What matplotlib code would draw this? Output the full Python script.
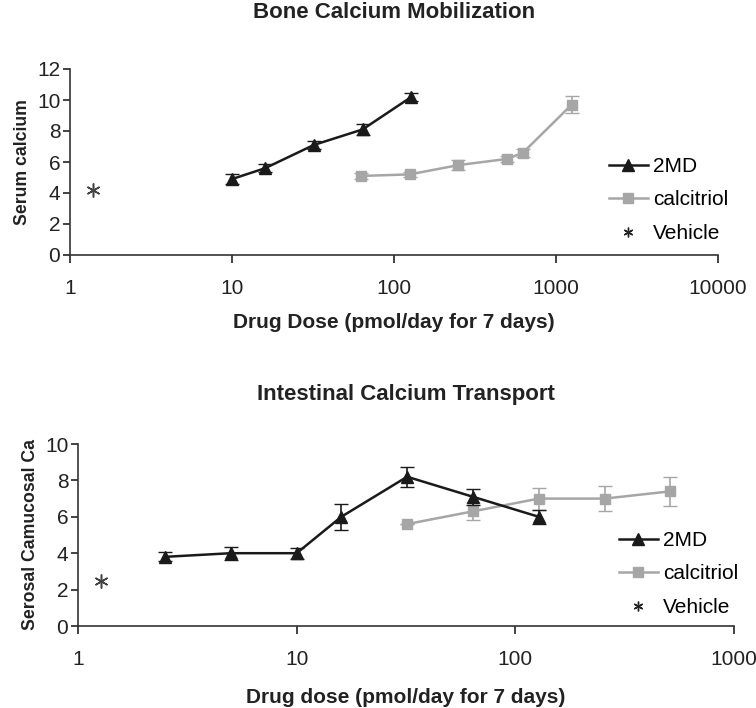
import numpy as np
import matplotlib.pyplot as plt
from matplotlib.lines import Line2D

# Bone calcium mobilization
bone_2md_dose = [10, 16, 32, 64, 128]
bone_2md_val = [4.9, 5.6, 7.1, 8.1, 10.2]
bone_2md_err = [0.3, 0.25, 0.25, 0.35, 0.25]
bone_cal_dose = [62.5, 125, 250, 500, 625, 1250]
bone_cal_val = [5.1, 5.2, 5.8, 6.2, 6.6, 9.7]
bone_cal_err = [0.2, 0.15, 0.3, 0.2, 0.25, 0.55]
bone_veh_dose = [1.39]
bone_veh_val = [4.2]

# Intestinal calcium transport
int_2md_dose = [2.5, 5, 10, 16, 32, 64, 128]
int_2md_val = [3.8, 4.0, 4.0, 6.0, 8.2, 7.1, 6.0]
int_2md_err = [0.25, 0.35, 0.3, 0.7, 0.55, 0.45, 0.4]
int_cal_dose = [32, 64, 128, 256, 512]
int_cal_val = [5.6, 6.3, 7.0, 7.0, 7.4]
int_cal_err = [0.0, 0.45, 0.6, 0.7, 0.8]
int_veh_dose = [1.28]
int_veh_val = [2.5]

black = '#1a1a1a'
gray = '#a6a6a6'
plt.rcParams['font.family'] = ['Liberation Sans', 'DejaVu Sans']

W, H = 756, 708
fig = plt.figure(figsize=(W / 100, H / 100), dpi=100)
ax1 = fig.add_axes([70 / W, 1 - 255 / H, 648 / W, 186 / H])
ax2 = fig.add_axes([78 / W, 1 - 626 / H, 656 / W, 182 / H])

star = (6, 2, 0)


def panel(ax, d1, v1, e1, d2, v2, e2, dv, vv, xlim, ylim, yticks,
          xlabel, ylabel, labelpad, legend_anchor):
    ax.errorbar(d1, v1, yerr=e1, color=black, marker='^', markersize=9,
                lw=1.8, capsize=5, elinewidth=1.2, zorder=3)
    ax.errorbar(d2, v2, yerr=e2, color=gray, marker='s', markersize=7,
                lw=1.8, capsize=5, elinewidth=1.2, zorder=2)
    ax.plot(dv, vv, linestyle='none', marker=star, markersize=10,
            markeredgewidth=1.1, color='#444444')
    ax.set_xscale('log')
    ax.set_xlim(*xlim)
    ax.set_ylim(*ylim)
    ax.set_yticks(yticks)
    ax.minorticks_off()
    ax.xaxis.set_major_formatter(plt.FuncFormatter(lambda v, p: '%g' % v))
    ax.spines['top'].set_visible(False)
    ax.spines['right'].set_visible(False)
    for side in ['left', 'bottom']:
        ax.spines[side].set_linewidth(1.2)
        ax.spines[side].set_color('#333333')
    ax.tick_params(axis='x', direction='out', length=6, width=1.2,
                   labelsize=15, pad=11, colors='#222222')
    ax.tick_params(axis='y', direction='out', length=5, width=1.2,
                   labelsize=15, pad=2, colors='#222222')
    ax.set_xlabel(xlabel, fontsize=15, fontweight='bold', color='#222222',
                  labelpad=labelpad)
    ax.set_ylabel(ylabel, fontsize=12.7, fontweight='bold',
                  color='#222222', labelpad=4)
    handles = [
        Line2D([], [], color=black, marker='^', markersize=9, lw=1.8),
        Line2D([], [], color=gray, marker='s', markersize=7, lw=1.8),
        Line2D([], [], color='#222222', marker=star, markersize=7,
               markeredgewidth=1.0, linestyle='none'),
    ]
    ax.legend(handles, ['2MD', 'calcitriol', 'Vehicle'], loc='center left',
              bbox_to_anchor=legend_anchor, frameon=False,
              prop={'size': 15}, handlelength=1.85, handletextpad=0.25,
              labelspacing=0.7, borderaxespad=0, borderpad=0)


panel(ax1, bone_2md_dose, bone_2md_val, bone_2md_err,
      bone_cal_dose, bone_cal_val, bone_cal_err,
      bone_veh_dose, bone_veh_val, (1, 10000), (0, 12), range(0, 13, 2),
      'Drug Dose (pmol/day for 7 days)', 'Serum calcium', 11,
      ((609 - 70) / 648, 0.296))

panel(ax2, int_2md_dose, int_2md_val, int_2md_err,
      int_cal_dose, int_cal_val, int_cal_err,
      int_veh_dose, int_veh_val, (1, 1000), (0, 10), range(0, 11, 2),
      'Drug dose (pmol/day for 7 days)', 'Serosal Camucosal Ca', 14,
      ((619 - 78) / 656, 0.286))

fig.text((70 + 718) / 2 / W, 1 - 18 / H, 'Bone Calcium Mobilization',
         ha='center', va='baseline', fontsize=16, fontweight='bold',
         color='#222222')
fig.text((78 + 734) / 2 / W, 1 - 400 / H, 'Intestinal Calcium Transport',
         ha='center', va='baseline', fontsize=16, fontweight='bold',
         color='#222222')

fig.savefig('out.png', dpi=100)
